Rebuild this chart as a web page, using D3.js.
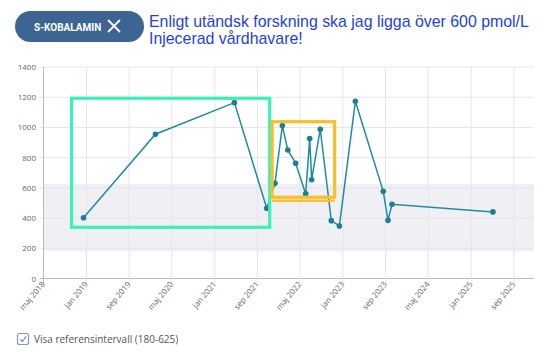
<!DOCTYPE html>
<html><head><meta charset="utf-8">
<script src="https://cdn.jsdelivr.net/npm/d3@7"></script>
<style>body{margin:0;background:#fff;}svg{display:block;}</style>
</head><body>
<script>
const dates = ["2018-12-15","2020-01-29","2021-04-23","2021-10-24","2021-12-10","2022-01-21","2022-02-21","2022-04-07","2022-06-03","2022-06-26","2022-07-07","2022-08-25","2022-10-27","2022-12-12","2023-03-13","2023-08-19","2023-09-15","2023-10-08","2025-05-05"];
const values = [402,955,1164,465,630,1012,851,763,560,926,654,988,383,348,1173,577,385,491,441];
const yTicks = [0,200,400,600,800,1000,1200,1400];
const xTickDates = ["2018-05-01","2019-01-01","2019-09-01","2020-05-01","2021-01-01","2021-09-01","2022-05-01","2023-01-01","2023-09-01","2024-05-01","2025-01-01","2025-09-01"];
const monthNames = ["jan","feb","mar","apr","maj","jun","jul","aug","sep","okt","nov","dec"];
const refRange = [180,625];
const titleLines = ["Enligt utändsk forskning ska jag ligga över 600 pmol/L","Injecerad vårdhavare!"];
const tagLabel = "S-KOBALAMIN";
const checkLabel = "Visa referensintervall (180-625)";
// annotation boxes in data coords [date0, date1, v0, v1]
const greenBox = ["2018-10-08","2021-11-10",339,1193];
const orangeBox = ["2021-11-24","2022-11-15",538,1038];
const orangeExtra = 515;

const W=555,H=356;
const parse=d3.utcParse("%Y-%m-%d");
const svg=d3.select("body").append("svg").attr("width",W).attr("height",H);

const x=d3.scaleUtc().domain([parse("2018-05-01"),parse("2025-12-25")]).range([43.5,534]);
const y=d3.scaleLinear().domain([0,1400]).range([278.5,67]);

// header pill
svg.append("rect").attr("x",15).attr("y",11).attr("width",129).attr("height",31).attr("rx",15.5).attr("fill","#3c6593");
svg.append("text").attr("x",34).attr("y",30.5).attr("fill","#fff").attr("font-family","Roboto, sans-serif").attr("font-weight","bold").attr("font-size",10).text(tagLabel);
svg.append("path").attr("d","M108,20 L120,32 M120,20 L108,32").attr("stroke","#fff").attr("stroke-width",1.8).attr("fill","none");
svg.selectAll("text.title").data(titleLines).enter().append("text").attr("class","title")
  .attr("x",149).attr("y",(d,i)=>27+i*17).attr("fill","#1f3fe4")
  .attr("font-family","Liberation Sans, Arial, sans-serif").attr("font-size",15.9).text(d=>d);

// reference band
svg.append("rect").attr("x",x.range()[0]).attr("width",x.range()[1]-x.range()[0])
  .attr("y",y(refRange[1])).attr("height",y(refRange[0])-y(refRange[1])).attr("fill","#efeff4");

// grid
const g=svg.append("g");
g.selectAll("line.hg").data(yTicks).enter().append("line")
  .attr("x1",x.range()[0]-4).attr("x2",x.range()[1]).attr("y1",d=>y(d)).attr("y2",d=>y(d))
  .attr("stroke",d=>d===0?"#bbb":"#e6e6ea").attr("stroke-width",1);
g.selectAll("line.vg").data(xTickDates).enter().append("line")
  .attr("x1",d=>x(parse(d))).attr("x2",d=>x(parse(d))).attr("y1",y(1400)).attr("y2",y(0)+5)
  .attr("stroke",(d,i)=>i===0?"#bbb":"#e6e6ea").attr("stroke-width",1);
g.selectAll("text.yl").data(yTicks).enter().append("text")
  .attr("x",36).attr("y",d=>y(d)+3).attr("text-anchor","end").attr("fill","#666")
  .attr("font-family","Open Sans, sans-serif").attr("font-size",8).text(d=>d);
g.selectAll("text.xl").data(xTickDates).enter().append("text")
  .attr("transform",d=>`translate(${x(parse(d))+2},${y(0)+6}) rotate(-50)`)
  .attr("text-anchor","end").attr("fill","#666").attr("font-family","Open Sans, sans-serif").attr("font-size",8)
  .text(d=>{const t=parse(d);return monthNames[t.getUTCMonth()]+" "+t.getUTCFullYear();});

// line
const pts=dates.map((d,i)=>({t:parse(d),v:values[i]}));
svg.append("path").datum(pts).attr("fill","none").attr("stroke","#208c9c").attr("stroke-width",1.5)
  .attr("d",d3.line().x(d=>x(d.t)).y(d=>y(d.v)));
svg.selectAll("circle.p").data(pts).enter().append("circle")
  .attr("cx",d=>x(d.t)).attr("cy",d=>y(d.v)).attr("r",2.8).attr("fill","#1a7f90");

// annotation boxes
function box(b,color,sw){
  const x0=x(parse(b[0])),x1=x(parse(b[1])),y0=y(b[3]),y1=y(b[2]);
  return svg.append("rect").attr("x",x0).attr("y",y0).attr("width",x1-x0).attr("height",y1-y0)
    .attr("fill","none").attr("stroke",color).attr("stroke-width",sw);
}
box(greenBox,"#3df0b8",3.2);
box(orangeBox,"#f7bf2a",3.2);
{
  const x0=x(parse(orangeBox[0])),x1=x(parse(orangeBox[1]));
  svg.append("line").attr("x1",x0).attr("x2",x1).attr("y1",y(orangeExtra)).attr("y2",y(orangeExtra))
    .attr("stroke","#f7bf2a").attr("stroke-width",2.5);
}

// checkbox
svg.append("rect").attr("x",17.5).attr("y",333.5).attr("width",11).attr("height",11).attr("rx",2)
  .attr("fill","#fff").attr("stroke","#8797b8").attr("stroke-width",1.2);
svg.append("path").attr("d","M20.5,339.5 L22.5,341.5 L26,336.5").attr("fill","none").attr("stroke","#6a7a99").attr("stroke-width",1.1);
svg.append("text").attr("x",34).attr("y",343).attr("fill","#555").attr("font-family","Open Sans, sans-serif").attr("font-size",10).text(checkLabel);
</script>
</body></html>
